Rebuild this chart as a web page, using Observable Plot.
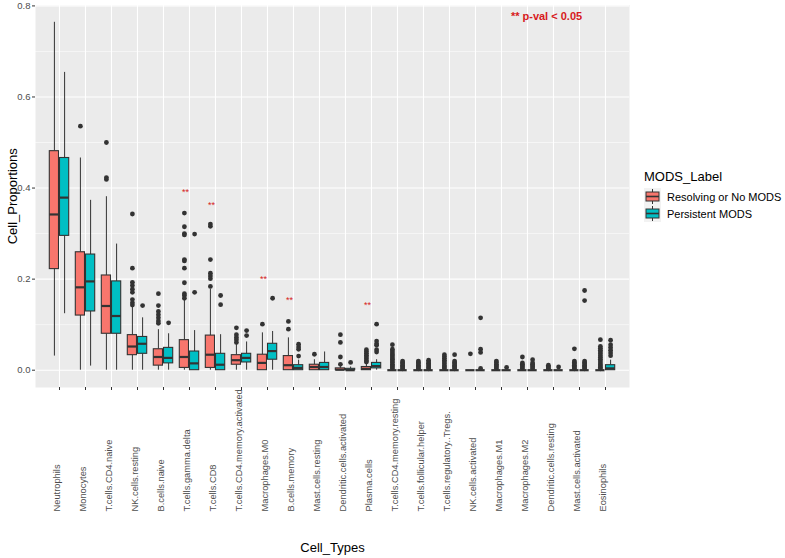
<!DOCTYPE html>
<html><head><meta charset="utf-8">
<script src="https://cdn.jsdelivr.net/npm/d3@7"></script>
<script src="https://cdn.jsdelivr.net/npm/@observablehq/plot@0.6"></script>
<style>
body{margin:0;background:#fff;font-family:"Liberation Sans",Arial,sans-serif;}
#wrap{position:relative;width:785px;height:558px;overflow:hidden;}
#legend{position:absolute;left:644px;top:169px;color:#000;font-family:"Liberation Sans",Arial,sans-serif;}
#legend .title{font-size:13px;line-height:16px;height:19px;white-space:nowrap;}
#legend .row{display:flex;align-items:center;height:17px;white-space:nowrap;}
#legend .row span{font-size:11px;margin-left:6px;}
</style></head>
<body><div id="wrap"><div id="legend"></div></div>
<script>
const cellTypes = ["Neutrophils","Monocytes","T.cells.CD4.naive","NK.cells.resting","B.cells.naive","T.cells.gamma.delta","T.cells.CD8","T.cells.CD4.memory.activated","Macrophages.M0","B.cells.memory","Mast.cells.resting","Dendritic.cells.activated","Plasma.cells","T.cells.CD4.memory.resting","T.cells.follicular.helper","T.cells.regulatory..Tregs.","NK.cells.activated","Macrophages.M1","Macrophages.M2","Dendritic.cells.resting","Mast.cells.activated","Eosinophils"];
const groups = ["Resolving or No MODS","Persistent MODS"];
const groupColors = ["#F8766D","#00BFC4"];

// [lower whisker, Q1, median, Q3, upper whisker]
const resolvingStats = [
  [0.031,0.222,0.342,0.481,0.764],
  [0.0,0.120,0.182,0.259,0.466],
  [0.0,0.080,0.141,0.208,0.381],
  [0.0,0.033,0.052,0.077,0.138],
  [0.0,0.010,0.029,0.046,0.089],
  [0.0,0.005,0.029,0.066,0.155],
  [0.0,0.005,0.034,0.076,0.178],
  [0.0,0.012,0.022,0.033,0.058],
  [0.0,0.0,0.016,0.034,0.082],
  [0.0,0.0,0.011,0.031,0.071],
  [0.0,0.0,0.007,0.012,0.023],
  [0.0,0.0,0.001,0.004,0.008],
  [0.0,0.0,0.003,0.007,0.015],
  [0,0,0,0,0],[0,0,0,0,0],[0,0,0,0,0],[0,0,0,0,0],
  [0,0,0,0,0],[0,0,0,0,0],[0,0,0,0,0],[0,0,0,0,0],[0,0,0,0,0]
];
const persistentStats = [
  [0.124,0.295,0.379,0.466,0.654],
  [0.009,0.129,0.195,0.254,0.373],
  [0.0,0.080,0.119,0.195,0.277],
  [0.0,0.036,0.058,0.073,0.115],
  [0.0,0.015,0.027,0.049,0.080],
  [0.0,0.0,0.015,0.041,0.087],
  [0.0,0.0,0.012,0.036,0.078],
  [0.0,0.017,0.027,0.036,0.062],
  [0.0,0.023,0.042,0.058,0.085],
  [0.0,0.0,0.005,0.011,0.022],
  [0.0,0.0,0.007,0.016,0.040],
  [0.0,0.0,0.0,0.003,0.007],
  [0.0,0.004,0.009,0.016,0.023],
  [0,0,0,0,0],[0,0,0,0,0],[0,0,0,0,0],[0,0,0,0,0],
  [0,0,0,0,0],[0,0,0,0,0],[0,0,0,0,0],[0,0,0,0,0],
  [0.0,0.0,0.004,0.011,0.022]
];
const resolvingOutliers = [
  [],
  [0.536],
  [0.500,0.423,0.419],
  [0.343,0.224,0.193,0.186,0.178,0.171,0.155,0.148,0.143],
  [0.168,0.142,0.129,0.122,0.115,0.108,0.103],
  [0.345,0.315,0.300,0.297,0.243,0.240,0.224,0.192,0.168,0.164,0.158],
  [0.321,0.316,0.243,0.213,0.207,0.201,0.184],
  [0.093,0.078,0.072,0.067,0.061],
  [0.101],
  [0.107,0.090],
  [0.035],
  [0.078,0.061,0.029,0.013],
  [0.045,0.041,0.037,0.033,0.029,0.025,0.021,0.018],
  [0.056,0.046,0.042,0.038,0.034,0.031,0.027,0.024,0.020,0.017,0.013,0.010,0.007,0.004],
  [0.020,0.017,0.014,0.011,0.008,0.005,0.003],
  [0.034,0.030,0.026,0.022,0.018,0.014,0.010,0.007,0.004],
  [0.036],
  [0.020,0.017,0.013,0.010,0.007,0.004],
  [0.029,0.016,0.013,0.010,0.007,0.004],
  [0.011,0.008,0.005,0.003],
  [0.047,0.020,0.017,0.014,0.011,0.008,0.005,0.003],
  [0.067,0.052,0.048,0.044,0.040,0.036,0.032,0.028,0.024,0.020,0.016,0.012,0.009,0.006,0.003]
];
const persistentOutliers = [
  [],[],[],
  [0.142],
  [0.104],
  [0.299,0.171],
  [0.164,0.144],
  [0.087,0.076],
  [0.158],
  [0.057,0.051,0.046,0.031],
  [],
  [0.017],
  [0.101,0.064,0.058,0.055,0.045,0.040],
  [0.020,0.017,0.014,0.011,0.008,0.005,0.003],
  [0.022,0.018,0.015,0.012,0.009,0.006,0.003],
  [0.034,0.020,0.017,0.014,0.011,0.008,0.005,0.003],
  [0.115,0.046,0.039,0.004],
  [0.006],
  [0.023,0.016,0.013,0.010,0.007,0.004],
  [0.007],
  [0.175,0.153,0.020,0.017,0.014,0.011,0.008,0.005,0.003],
  [0.066,0.056,0.050,0.044,0.038,0.032]
];
const starCells = ["T.cells.gamma.delta","T.cells.CD8","Macrophages.M0","B.cells.memory","Plasma.cells"];
const starValues = [0.391,0.363,0.201,0.153,0.142];
const yTicks = [0,0.2,0.4,0.6,0.8];
const yMinor = [0.1,0.3,0.5,0.7];
const pvalNote = "** p-val < 0.05";

const statsByGroup = [resolvingStats, persistentStats];
const outByGroup = [resolvingOutliers, persistentOutliers];
const boxes = [], outliers = [];
groups.forEach((g, gi) => {
  cellTypes.forEach((c, i) => {
    const s = statsByGroup[gi][i];
    boxes.push({cell: c, group: g, lo: s[0], q1: s[1], med: s[2], q3: s[3], hi: s[4]});
    outByGroup[gi][i].forEach(v => outliers.push({cell: c, group: g, v}));
  });
});
const stars = starCells.map((c, i) => ({cell: c, v: starValues[i]}));

const dark = "#333333";
const half = [{g: groups[0], dx: -5.1, il: 0.3, ir: 10.5}, {g: groups[1], dx: 5.1, il: 10.5, ir: 0.3}];
const groupMarks = half.flatMap(h => {
  const b = boxes.filter(d => d.group === h.g);
  const o = outliers.filter(d => d.group === h.g);
  return [
    Plot.ruleX(b, {x: "cell", y1: "lo", y2: "q1", stroke: dark, strokeWidth: 1, dx: h.dx}),
    Plot.ruleX(b, {x: "cell", y1: "q3", y2: "hi", stroke: dark, strokeWidth: 1, dx: h.dx}),
    Plot.barY(b, {x: "cell", y1: "q1", y2: "q3", fill: "group", stroke: dark, strokeWidth: 1.1, insetLeft: h.il, insetRight: h.ir}),
    Plot.tickY(b, {x: "cell", y: "med", stroke: dark, strokeWidth: 2.2, insetLeft: h.il, insetRight: h.ir}),
    Plot.dot(o, {x: "cell", y: "v", r: 2.4, fill: dark, stroke: null, dx: h.dx})
  ];
});

const chart = Plot.plot({
  width: 785, height: 558,
  marginLeft: 35, marginRight: 156, marginTop: 4.5, marginBottom: 171,
  style: {fontFamily: "Liberation Sans, Arial, sans-serif", background: "white", overflow: "visible"},
  x: {domain: cellTypes, type: "band", paddingInner: 0.25, paddingOuter: 0.225, axis: null},
  y: {domain: [-0.038, 0.802], axis: null},
  color: {domain: groups, range: groupColors},
  marks: [
    Plot.frame({fill: "#EBEBEB", stroke: null}),
    Plot.gridY(yMinor, {stroke: "white", strokeOpacity: 1, strokeWidth: 0.55}),
    Plot.gridY(yTicks, {stroke: "white", strokeOpacity: 1, strokeWidth: 1.1}),
    Plot.gridX(cellTypes, {stroke: "white", strokeOpacity: 1, strokeWidth: 1.1}),
    ...groupMarks,
    Plot.text(stars, {x: "cell", y: "v", text: () => "**", fill: "#D71920", fontSize: 9, dx: -4}),
    Plot.text([pvalNote], {x: () => "Macrophages.M2", y: () => 0.776, text: d => d, fill: "#D71920", fontWeight: "bold", fontSize: 11, dx: 19}),
    Plot.axisY(yTicks, {tickFormat: d3.format(".1f"), tickSize: 3, tickPadding: 2, fontSize: 9.5, stroke: dark, fill: "#4D4D4D", label: null}),
    Plot.axisX(cellTypes, {tickSize: 3, tickFormat: () => "", stroke: dark, label: null}),
    Plot.text(cellTypes, {x: d => d, frameAnchor: "bottom", dy: 124, rotate: -90, textAnchor: "start", fontSize: 9.3, fill: "#4D4D4D"}),
    Plot.text(["Cell_Types"], {frameAnchor: "bottom", dy: 164, fontSize: 13, fill: "black"}),
    Plot.text(["Cell_Proportions"], {frameAnchor: "left", dx: -23, rotate: -90, textAnchor: "middle", fontSize: 13, fill: "black"})
  ]
});
document.getElementById("wrap").prepend(chart);

// legend
const legend = document.getElementById("legend");
const t = document.createElement("div");
t.className = "title"; t.textContent = "MODS_Label";
legend.appendChild(t);
groups.forEach((g, i) => {
  const row = document.createElement("div");
  row.className = "row";
  row.innerHTML = `<svg width="17" height="17"><rect width="17" height="17" fill="#F2F2F2"/>` +
    `<line x1="8.5" x2="8.5" y1="1" y2="16" stroke="${dark}" stroke-width="1"/>` +
    `<rect x="2" y="4" width="13" height="9" fill="${groupColors[i]}" stroke="${dark}" stroke-width="1"/>` +
    `<line x1="2" x2="15" y1="8.5" y2="8.5" stroke="${dark}" stroke-width="1.6"/></svg>`;
  const s = document.createElement("span");
  s.textContent = g;
  row.appendChild(s);
  legend.appendChild(row);
});
</script>
</body></html>
